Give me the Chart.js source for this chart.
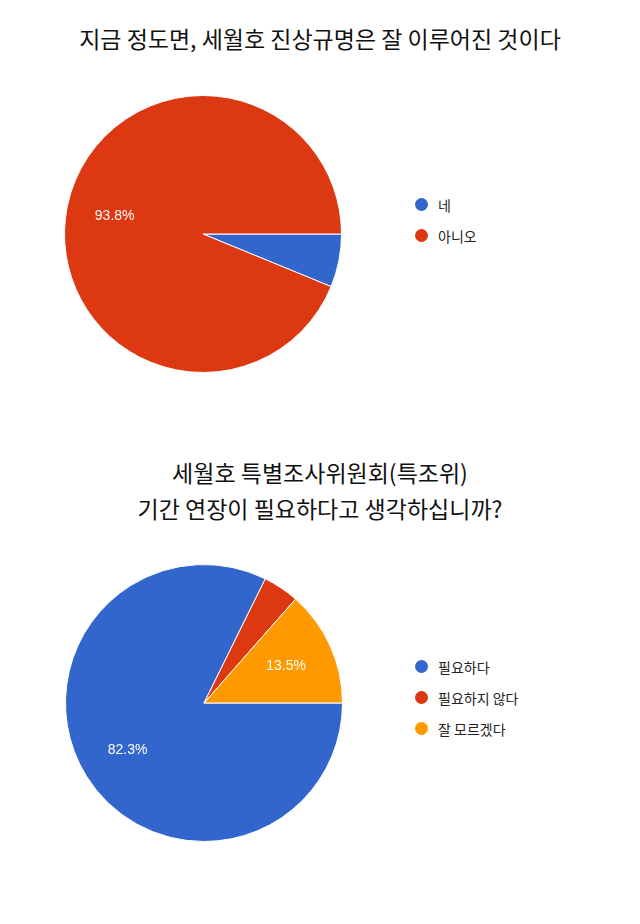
<!DOCTYPE html>
<html><head><meta charset="utf-8">
<script src="https://cdn.jsdelivr.net/npm/chart.js@4"></script>
<style>
body{margin:0;width:640px;height:924px;background:#fff;position:relative;font-family:"Noto Sans CJK KR","Noto Sans",sans-serif;}
.title{position:absolute;left:0;width:640px;text-align:center;font-size:23px;color:#111;line-height:36px;}
.box{position:absolute;width:290px;height:290px;}
.legend{position:absolute;font-size:14px;color:#222;}
.legend div{height:31px;display:flex;align-items:center;}
.legend span.dot{width:13px;height:13px;border-radius:50%;display:inline-block;margin-right:10px;}
</style></head><body>
<div class="title" style="top:20px">지금 정도면, 세월호 진상규명은 잘 이루어진 것이다</div>
<div class="box" style="left:58px;top:89px"><canvas id="c1"></canvas></div>
<div class="legend" id="l1" style="left:415px;top:189px"></div>
<div class="title" style="top:454px">세월호 특별조사위원회(특조위)<br>기간 연장이 필요하다고 생각하십니까?</div>
<div class="box" style="left:59px;top:558px"><canvas id="c2"></canvas></div>
<div class="legend" id="l2" style="left:415px;top:651px"></div>
<script>
const labels1 = ["네", "아니오"];
const values1 = [6.2, 93.8];
const labels2 = ["필요하다", "필요하지 않다", "잘 모르겠다"];
const values2 = [82.3, 4.2, 13.5];
const colors = ["#3366cc", "#dc3912", "#ff9900"];

const pctPlugin = {
  id: 'pct',
  afterDatasetsDraw(chart) {
    const ctx = chart.ctx;
    const meta = chart.getDatasetMeta(0);
    const data = chart.data.datasets[0].data;
    const total = data.reduce((a, b) => a + b, 0);
    meta.data.forEach((arc, i) => {
      const v = data[i] / total * 100;
      if (v < 10) return;
      const mid = (arc.startAngle + arc.endAngle) / 2;
      const r = arc.outerRadius * 0.65;
      ctx.save();
      ctx.fillStyle = '#fff';
      ctx.font = '14px Arial, "Liberation Sans", sans-serif';
      ctx.textAlign = 'center';
      ctx.textBaseline = 'middle';
      ctx.fillText(data[i].toFixed(1) + '%', arc.x + Math.cos(mid) * r, arc.y + Math.sin(mid) * r);
      ctx.restore();
    });
  }
};

function make(id, legId, labels, values) {
  new Chart(document.getElementById(id), {
    type: 'pie',
    data: { labels, datasets: [{ data: values, backgroundColor: colors.slice(0, values.length), borderColor: '#fff', borderWidth: 1 }] },
    options: {
      responsive: true, maintainAspectRatio: false, animation: false, rotation: 90,
      layout: { padding: 6 },
      plugins: { legend: { display: false }, tooltip: { enabled: false } }
    },
    plugins: [pctPlugin]
  });
  const leg = document.getElementById(legId);
  labels.forEach((l, i) => {
    const d = document.createElement('div');
    d.innerHTML = '<span class="dot" style="background:' + colors[i] + '"></span>' + l;
    leg.appendChild(d);
  });
}
make('c1', 'l1', labels1, values1);
make('c2', 'l2', labels2, values2);
</script>
</body></html>
